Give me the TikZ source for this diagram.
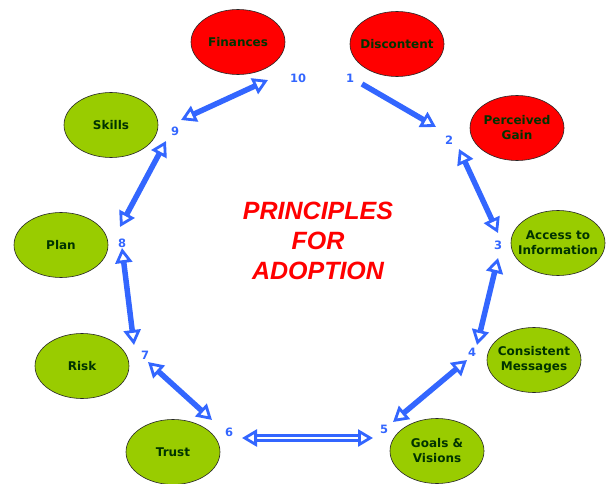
\documentclass[tikz,border=0pt]{standalone}
\usepackage{fontspec}
\setmainfont{DejaVu Sans}
\newfontfamily\titlefont{Liberation Sans}
\usepackage{xcolor}
\definecolor{leafgreen}{RGB}{153,204,0}
\definecolor{leaftext}{RGB}{0,51,0}
\definecolor{flowblue}{RGB}{51,102,255}
\usetikzlibrary{shapes.geometric,arrows.meta}

\begin{document}
\begin{tikzpicture}[x=1pt, y=-1pt]
        \tikzset{
          principle/.style={ellipse, draw=black!85, line width=0.6pt,
                          minimum width=94pt, minimum height=65pt,
                          inner xsep=-9pt, inner ysep=0pt,
                          align=center, text=leaftext,
                          font=\bfseries\fontsize{12}{15}\selectfont},
          stepnum/.style={text=flowblue, inner sep=1pt,
                          font=\bfseries\fontsize{11.5}{13}\selectfont},
          flow/.style={draw=flowblue, line width=5.5pt},
          twoway/.style={flow, {Triangle[open, length=15pt, width=17pt, line width=2.8pt]}-{Triangle[open, length=15pt, width=17pt, line width=2.8pt]}}
        }
        \useasboundingbox (0,0) rectangle (613,484);
        % Principles
        \foreach \n/\x/\y/\c/\t in {
            fin/238/42/red/Finances, dis/397/44/red/Discontent,
            gain/517/128/red/{Perceived\\Gain}, acc/558/243/leafgreen/{Access to\\Information},
            msg/534/360/leafgreen/{Consistent\\Messages}, goal/437/451/leafgreen/{Goals \&\\Visions},
            trust/173/452/leafgreen/Trust, risk/82/366/leafgreen/Risk,
            plan/61/245/leafgreen/Plan, skill/111/125/leafgreen/Skills} {
          \node[principle, fill=\c] (\n) at (\x,\y) {\t};
        }
        % Step numbers
        \foreach \i/\x/\y in {1/350/78, 2/449/140, 3/498/245, 4/472/352, 5/384/429,
                              6/229/432, 7/145/355, 8/122/243, 9/175/131, 10/298/78} {
          \node[stepnum] (N\i) at (\x,\y) {\i};
        }
        % Arrow ends
        \foreach \n/\x/\y in {a1/362/84, b2/436/127, a10/268/80, b9/181/120,
                              a9/166/141, b8/120/227, a8/122/248, b7/134/345,
                              a7/148/362, b6/212/420, a6/242/438, b5/373/438,
                              a5/393/422, b4/467/360, a4/477/345, b3/498/258,
                              a3/498/233, b2x/459/149} {
          \coordinate (\n) at (\x,\y);
        }
        % Arrows
        \draw[flow, -{Triangle[open, length=15pt, width=17pt, line width=2.8pt]}] (a1) -- (b2);
        \foreach \s/\e in {a10/b9, a9/b8, a8/b7, a7/b6, a5/b4, a4/b3, a3/b2x} {
          \draw[twoway] (\s) -- (\e);
        }
        \draw[twoway, line width=2.6pt, double=white, double distance=2.2pt] (a6) -- (b5);
        % Title
        \node[text=red, align=center,
              font=\titlefont\bfseries\itshape\fontsize{25}{30}\selectfont] (title) at (318,241)
              {PRINCIPLES\\FOR\\ADOPTION};
\end{tikzpicture}
\end{document}
